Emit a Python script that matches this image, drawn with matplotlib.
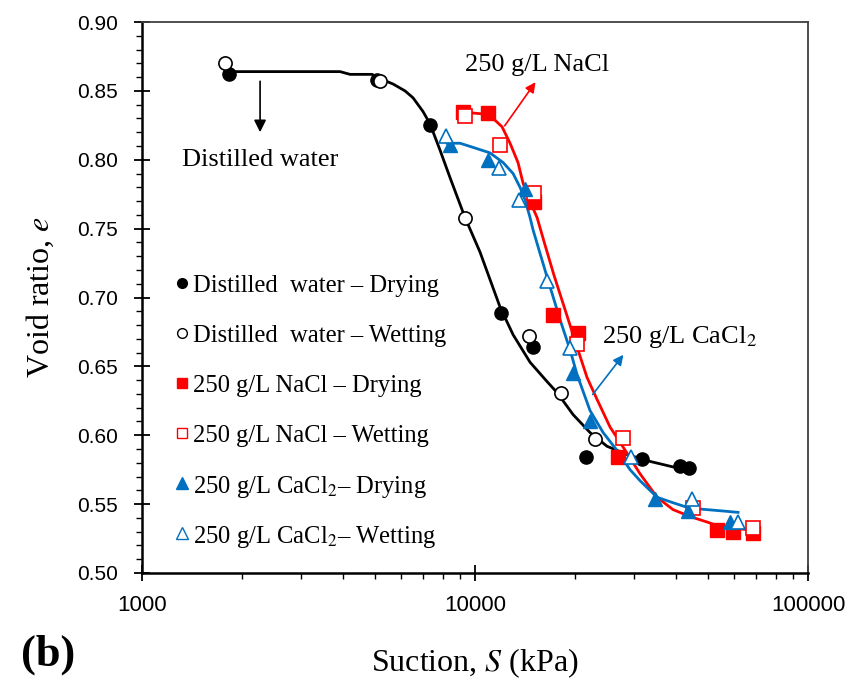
import numpy as np
import matplotlib
matplotlib.use('Agg')
import matplotlib.pyplot as plt
from matplotlib.ticker import MultipleLocator, LogLocator, NullFormatter, FixedLocator

plt.rcParams['font.family'] = ['Liberation Serif', 'DejaVu Serif']
plt.rcParams['mathtext.fontset'] = 'stix'

# measured points: suction (kPa), void ratio
dw_dry_s = [1825, 5067, 7327, 11970, 14940, 21540, 31730, 41260, 43920]
dw_dry_e = [0.862, 0.858, 0.825, 0.689, 0.664, 0.584, 0.583, 0.578, 0.576]
dw_wet_s = [1775, 5184, 9333, 14530, 18130, 22930]
dw_wet_e = [0.870, 0.857, 0.758, 0.672, 0.631, 0.597]

nacl_dry_s = [9204, 10940, 15040, 17150, 20390, 26880, 53300, 59540, 68360]
nacl_dry_e = [0.835, 0.834, 0.769, 0.687, 0.674, 0.584, 0.531, 0.530, 0.529]
nacl_wet_s = [9333, 11890, 15040, 20250, 27830, 45160, 68360]
nacl_wet_e = [0.832, 0.811, 0.776, 0.666, 0.598, 0.547, 0.533]

cacl_dry_s = [8414, 10940, 14130, 19700, 22150, 34720, 43620, 58320]
cacl_dry_e = [0.811, 0.800, 0.779, 0.645, 0.610, 0.554, 0.545, 0.537]
cacl_wet_s = [8182, 11810, 13560, 16450, 19290, 29410, 44850, 61630]
cacl_wet_e = [0.817, 0.794, 0.771, 0.712, 0.663, 0.584, 0.554, 0.537]

# fitted curves
dw_fit_s = [1813, 2982, 3932, 4213, 4906, 5293, 5673, 6163, 6513, 6980, 7326, 7850,
            8413, 9333, 10350, 11890, 13010, 14630, 16450, 17630, 19700, 22140,
            24910, 28610, 33540, 39320, 44220]
dw_fit_e = [0.864, 0.864, 0.864, 0.862, 0.862, 0.858, 0.855, 0.850, 0.845, 0.835,
            0.826, 0.807, 0.787, 0.758, 0.733, 0.693, 0.673, 0.653, 0.639, 0.631,
            0.615, 0.602, 0.592, 0.586, 0.581, 0.577, 0.576]

nacl_fit_s = [9204, 9795, 10870, 11330, 12050, 12740, 13460, 13940, 14430, 15360,
              16230, 17270, 18760, 20250, 21690, 23250, 25430, 28610, 31300, 35200,
              39320, 44220, 49740, 55550, 62500, 68360]
nacl_fit_e = [0.836, 0.834, 0.833, 0.830, 0.824, 0.812, 0.798, 0.783, 0.773, 0.758,
              0.738, 0.716, 0.689, 0.664, 0.642, 0.626, 0.606, 0.587, 0.572, 0.555,
              0.546, 0.541, 0.537, 0.533, 0.532, 0.531]

cacl_fit_s = [8241, 9016, 9863, 11090, 12140, 13010, 13650, 14130, 14630, 14940,
              16450, 18000, 19290, 20250, 22140, 24240, 26690, 29210, 31300, 35200,
              39320, 44220, 49740, 55550, 61630]
cacl_fit_e = [0.812, 0.812, 0.809, 0.805, 0.798, 0.790, 0.780, 0.771, 0.758, 0.749,
              0.715, 0.684, 0.662, 0.644, 0.618, 0.602, 0.589, 0.575, 0.567, 0.555,
              0.551, 0.547, 0.546, 0.545, 0.544]

legend_labels = ['Distilled  water \u2013 Drying', 'Distilled  water \u2013 Wetting',
                 '250 g/L NaCl \u2013 Drying', '250 g/L NaCl \u2013 Wetting',
                 '250 g/L CaCl$_2$\u2013 Drying', '250 g/L CaCl$_2$\u2013 Wetting']

RED = '#ff0000'
BLUE = '#0070c0'

fig = plt.figure(figsize=(8.52, 6.84), dpi=100)
ax = fig.add_axes([0.1667, 0.1623, 0.7817, 0.8055])

ax.plot(dw_fit_s, dw_fit_e, color='black', lw=2)
ax.plot(nacl_fit_s, nacl_fit_e, color=RED, lw=2)
ax.plot(cacl_fit_s, cacl_fit_e, color=BLUE, lw=2)

ms = 9.5
styles = [
    dict(marker='o', color='black'),
    dict(marker='o', mfc='white', mec='black', mew=1.2),
    dict(marker='s', color=RED),
    dict(marker='s', mfc='white', mec=RED, mew=1.2),
    dict(marker='^', color=BLUE),
    dict(marker='^', mfc='white', mec=BLUE, mew=1.2),
]
series = [(dw_dry_s, dw_dry_e), (dw_wet_s, dw_wet_e),
          (nacl_dry_s, nacl_dry_e), (nacl_wet_s, nacl_wet_e),
          (cacl_dry_s, cacl_dry_e), (cacl_wet_s, cacl_wet_e)]
for (xs, ys), st in zip(series, styles):
    size = ms + 1 if st['marker'] == '^' else ms
    ax.plot(xs, ys, ls='none', ms=size, **st)

ax.set_xscale('log')
ax.set_xlim(1000, 100000)
ax.set_ylim(0.50, 0.90)
ax.xaxis.set_major_locator(FixedLocator([1000, 10000, 100000]))
ax.xaxis.set_major_formatter(matplotlib.ticker.FuncFormatter(lambda v, p: '%d' % v))
ax.xaxis.set_minor_locator(LogLocator(base=10, subs=np.arange(2, 10)))
ax.xaxis.set_minor_formatter(NullFormatter())
ax.yaxis.set_major_locator(MultipleLocator(0.05))
ax.yaxis.set_minor_locator(MultipleLocator(0.01))
ax.yaxis.set_major_formatter(matplotlib.ticker.FormatStrFormatter('%.2f'))

ax.tick_params(which='major', direction='inout', length=11, width=1.3)
ax.tick_params(axis='y', which='major', pad=12, labelsize=15)
ax.tick_params(axis='x', which='major', pad=10, labelsize=16)
ax.tick_params(which='minor', direction='out', length=4, width=1.0)
for lab in ax.get_yticklabels() + ax.get_xticklabels():
    lab.set_family(['Liberation Sans', 'DejaVu Sans'])

for side in ['left', 'bottom']:
    ax.spines[side].set_linewidth(1.8)
    ax.spines[side].set_color('black')
for side in ['top', 'right']:
    ax.spines[side].set_linewidth(1.3)
    ax.spines[side].set_color('#404040')

ax.set_xlabel('Suction, $S$ (kPa)', fontsize=23, labelpad=22)
ax.set_ylabel('Void ratio, $e$', fontsize=23, labelpad=15)

# annotations
ax.annotate('', xy=(2262, 0.818), xytext=(2262, 0.859),
            arrowprops=dict(arrowstyle='-|>', color='black', lw=1.2, mutation_scale=18))
ax.text(2262, 0.800, 'Distilled water', fontsize=19, ha='center', va='center')

ax.annotate('', xy=(15360, 0.858), xytext=(12140, 0.823),
            arrowprops=dict(arrowstyle='-|>', color=RED, lw=1.2, mutation_scale=15))
ax.text(15360, 0.869, '250 g/L NaCl', fontsize=19, ha='center', va='center')

ax.annotate('', xy=(28220, 0.660), xytext=(22300, 0.628),
            arrowprops=dict(arrowstyle='-|>', color=BLUE, lw=1.2, mutation_scale=15))
ax.text(24000, 0.671, '250 g/L CaCl$_2$', fontsize=19, ha='left', va='center')

# legend drawn row by row (fixed spacing)
leg_ms = [7, 7, 7.5, 7.5, 8.5, 8.5]
for i, (st, lab) in enumerate(zip(styles, legend_labels)):
    yy = 0.526 - i * 50 / 551
    st2 = dict(st)
    if 'mew' in st2:
        st2['mew'] = 1.0
    ax.plot([0.060], [yy], ls='none', ms=leg_ms[i], transform=ax.transAxes,
            clip_on=False, **st2)
    ax.text(0.0766, yy, lab, fontsize=17.7, ha='left', va='center_baseline',
            transform=ax.transAxes)

fig.text(0.025, 0.027, '(b)', fontsize=32, fontweight='bold')

fig.savefig('out.png', dpi=100)
